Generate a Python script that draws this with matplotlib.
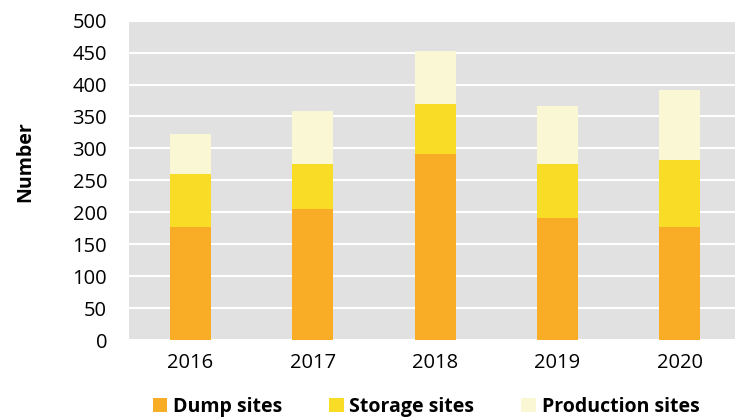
import matplotlib
matplotlib.use("Agg")
import matplotlib.pyplot as plt
import numpy as np

years = ["2016", "2017", "2018", "2019", "2020"]
dump = [177, 205, 291, 191, 177]
storage = [83, 70, 79, 85, 105]
production = [62, 83, 83, 90, 109]
series_names = ["Dump sites", "Storage sites", "Production sites"]
colors = ["#F9AC26", "#F8DC26", "#FAF7D4"]
yticks = [0, 50, 100, 150, 200, 250, 300, 350, 400, 450, 500]

plt.rcParams['font.family'] = ['Open Sans', 'DejaVu Sans']

fig = plt.figure(figsize=(7.35, 4.2), dpi=100)
ax = fig.add_axes([129.4 / 735, 1 - 340 / 420, 611.6 / 735, (340 - 20.7) / 420])
ax.set_facecolor("#E1E1E1")

x = np.arange(len(years))
w = 0.335
bottom = np.zeros(len(years))
handles = []
for vals, c, name in zip([dump, storage, production], colors, series_names):
    b = ax.bar(x, vals, w, bottom=bottom, color=c, label=name, zorder=3)
    handles.append(b)
    bottom += np.array(vals)

ax.set_xlim(-0.5, 4.5)
ax.set_ylim(0, 500)
ax.set_yticks(yticks)
ax.set_xticks(x)
ax.set_xticklabels(years)
ax.tick_params(axis='y', length=0, pad=16, labelsize=14.5, colors='black')
ax.tick_params(axis='x', length=0, pad=9, labelsize=14.5, colors='black')
ax.yaxis.grid(True, color='white', linewidth=1.5, zorder=1)
ax.set_axisbelow(True)
for s in ax.spines.values():
    s.set_visible(False)

fig.text(25 / 735, 1 - 162 / 420, "Number", rotation=90, ha='center', va='center',
         fontsize=14, fontweight='bold')

leg = fig.legend(handles=handles, labels=series_names, loc='center',
                 bbox_to_anchor=(426 / 735, 1 - 407 / 420), ncol=3, frameon=False,
                 prop={'weight': 'bold', 'size': 14}, handlelength=0.75,
                 handleheight=0.75, handletextpad=0.3, columnspacing=2.4)

fig.savefig("out.png", dpi=100)
